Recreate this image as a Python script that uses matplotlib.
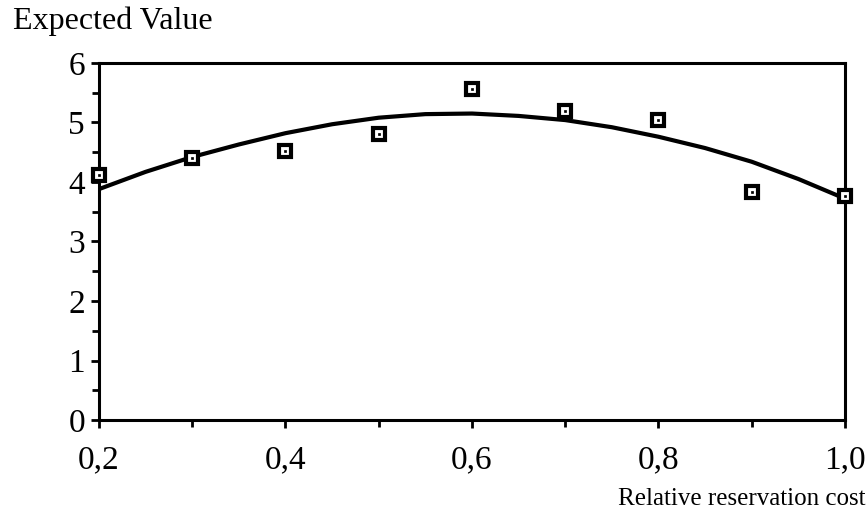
import matplotlib
matplotlib.use("Agg")
import matplotlib.pyplot as plt
from matplotlib.ticker import MultipleLocator, FuncFormatter

plt.rcParams["font.family"] = ["Liberation Serif", "DejaVu Serif"]

# observed points
cost = [0.2, 0.3, 0.4, 0.5, 0.6, 0.7, 0.8, 0.9, 1.0]
value = [4.12, 4.40, 4.52, 4.81, 5.56, 5.19, 5.04, 3.83, 3.76]

# fitted curve
curve_x = [0.20, 0.25, 0.30, 0.35, 0.40, 0.45, 0.50, 0.55, 0.60,
           0.65, 0.70, 0.75, 0.80, 0.85, 0.90, 0.95, 1.00]
curve_y = [3.88, 4.17, 4.42, 4.63, 4.82, 4.97, 5.08, 5.14, 5.15,
           5.11, 5.04, 4.92, 4.76, 4.57, 4.34, 4.05, 3.72]

fig = plt.figure(figsize=(8.68, 5.16), dpi=100)
ax = fig.add_axes([0.114, 0.186, 0.8595, 0.692])

ax.plot(curve_x, curve_y, color="black", lw=3, solid_capstyle="butt", zorder=2)
ax.plot(cost, value, ls="none", marker="s", ms=9, mfc="white", mec="black",
        mew=3, zorder=3, clip_on=False)
ax.plot(cost, value, ls="none", marker="s", ms=2, mfc="black", mec="black",
        mew=0.5, zorder=4, clip_on=False)

ax.set_xlim(0.2, 1.0)
ax.set_ylim(0, 6)
ax.xaxis.set_major_locator(MultipleLocator(0.2))
ax.xaxis.set_minor_locator(MultipleLocator(0.1))
ax.yaxis.set_major_locator(MultipleLocator(1))
ax.yaxis.set_minor_locator(MultipleLocator(0.5))
ax.xaxis.set_major_formatter(FuncFormatter(lambda v, p: f"{v:.1f}".replace(".", ",")))

for s in ax.spines.values():
    s.set_linewidth(2.2)
ax.tick_params(which="both", direction="out", width=2, labelsize=24, colors="black")
ax.tick_params(which="major", length=6, pad=4)
ax.tick_params(which="minor", length=5)
ax.tick_params(axis="x", which="major", pad=12)

fig.text(0.015, 0.93, "Expected Value", fontsize=23, ha="left", va="bottom")
fig.text(0.997, 0.012, "Relative reservation cost", fontsize=18, ha="right", va="bottom")

fig.savefig("out.png", dpi=100)
